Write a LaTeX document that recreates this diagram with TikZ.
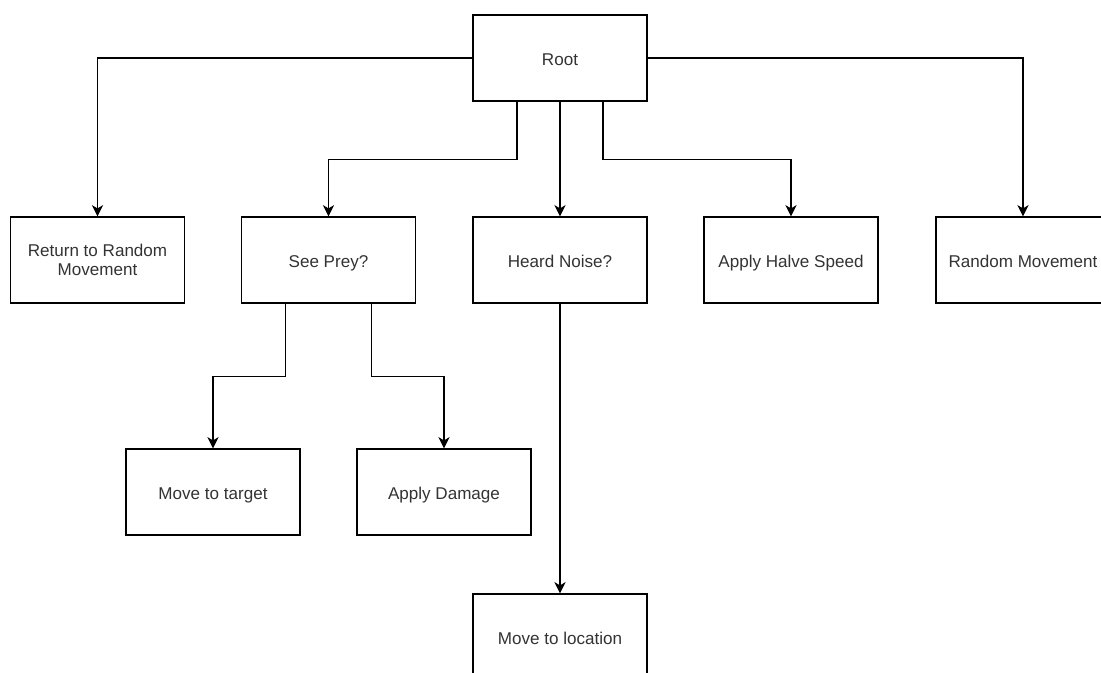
\documentclass[tikz,border=0pt]{standalone}
\usepackage{fontspec}
\setmainfont{Liberation Sans}
\usetikzlibrary{arrows.meta,calc}
\begin{document}
\begin{tikzpicture}[x=0.75pt,y=-0.75pt,
  blk/.style={draw,line width=0.9pt,minimum width=130.5pt,minimum height=64.5pt,align=center,font=\fontsize{12.8}{14.5}\selectfont,text=black!80},
  one/.style={blk,text height=11.2pt,text depth=0.6pt},
  arr/.style={line width=0.9pt,-{Stealth[length=8.5pt,width=8.5pt,inset=2.5pt]}}]
\useasboundingbox (0,0) rectangle (1101,673);
\node[one] (root) at (560,58) {Root};
\node[blk] (ret) at (97.5,260) {Return to Random\\Movement};
\node[one] (prey) at (328.5,260) {See Prey?};
\node[one] (heard) at (560,260) {Heard Noise?};
\node[one] (halve) at (791,260) {Apply Halve Speed};
\node[one] (rand) at (1023,260) {Random Movement};
\node[one] (target) at (213,492) {Move to target};
\node[one] (damage) at (444,492) {Apply Damage};
\node[one] (loc) at (560,637) {Move to location};
\draw[arr] (root.west) -| (ret.north);
\draw[arr] (root.east) -| (rand.north);
\draw[arr] ($(root.south)+(-43,0)$) -- ++(0,58) -| (prey.north);
\draw[arr] (root.south) -- (heard.north);
\draw[arr] ($(root.south)+(43,0)$) -- ++(0,58) -| (halve.north);
\draw[arr] ($(prey.south)+(-43,0)$) -- ++(0,73) -| (target.north);
\draw[arr] ($(prey.south)+(43,0)$) -- ++(0,73) -| (damage.north);
\draw[arr] (heard.south) -- (loc.north);
\end{tikzpicture}
\end{document}
